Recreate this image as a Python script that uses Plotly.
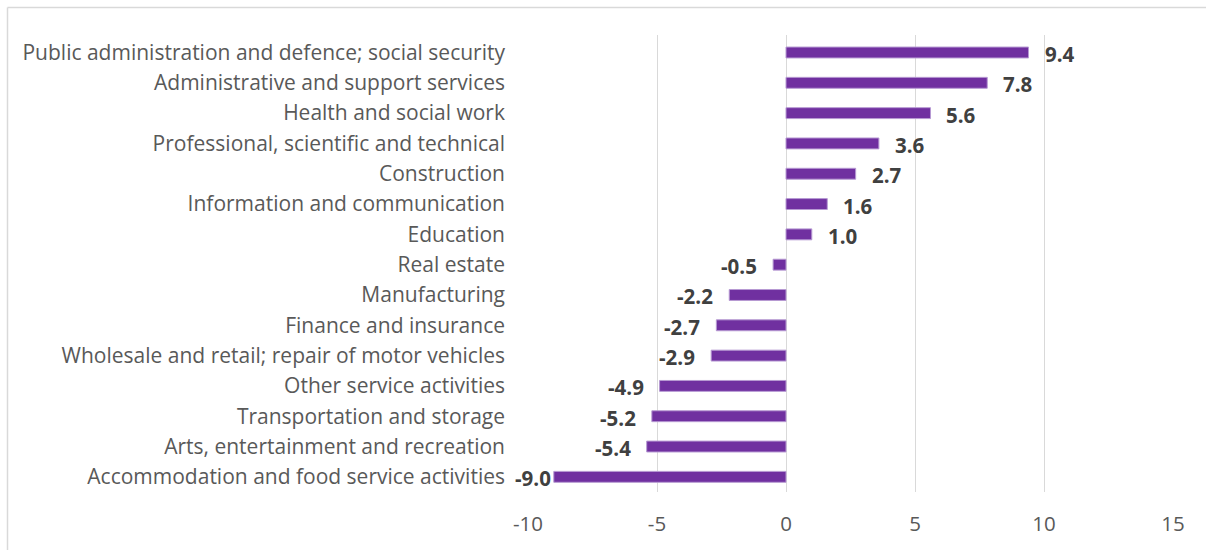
import plotly.graph_objects as go

categories = [
    "Public administration and defence; social security",
    "Administrative and support services",
    "Health and social work",
    "Professional, scientific and technical",
    "Construction",
    "Information and communication",
    "Education",
    "Real estate",
    "Manufacturing",
    "Finance and insurance",
    "Wholesale and retail; repair of motor vehicles",
    "Other service activities",
    "Transportation and storage",
    "Arts, entertainment and recreation",
    "Accommodation and food service activities",
]
values = [9.4, 7.8, 5.6, 3.6, 2.7, 1.6, 1.0, -0.5, -2.2, -2.7, -2.9, -4.9, -5.2, -5.4, -9.0]
x_ticks = [-10, -5, 0, 5, 10, 15]

W, H = 1206, 550
ML, MR, MT, MB = 528, 33, 35, 58
PW, PH = W - ML - MR, H - MT - MB

FONT = "Open Sans"

fig = go.Figure(go.Bar(
    x=values, y=categories, orientation="h",
    marker=dict(color="#7030A0", line=dict(color="#B79AD3", width=1)),
    width=0.36,
))

annotations = []
for c, v in zip(categories, values):
    shift = 14 if v >= 0 else (-14 if v > -8 else -1)
    annotations.append(dict(
        x=v, y=c, xref="x", yref="y", text=f"<b>{v:.1f}</b>", showarrow=False,
        xanchor="left" if v >= 0 else "right", xshift=shift, yshift=-1.5,
        font=dict(family=FONT, size=20.5, color="#404040"),
    ))

def px2paper_x(px):
    return (px - ML) / PW

def px2paper_y(py):
    return 1 - (py - MT) / PH

# outer chart border (top and left edges visible)
border = dict(color="#D9D9D9", width=1.5)
fig.add_shape(type="line", xref="paper", yref="paper",
              x0=px2paper_x(7.5), x1=px2paper_x(1210), y0=px2paper_y(7.5), y1=px2paper_y(7.5),
              line=border, layer="below")
fig.add_shape(type="line", xref="paper", yref="paper",
              x0=px2paper_x(7.5), x1=px2paper_x(7.5), y0=px2paper_y(7.5), y1=px2paper_y(555),
              line=border, layer="below")

fig.update_layout(
    width=W, height=H,
    margin=dict(l=ML, r=MR, t=MT, b=MB),
    paper_bgcolor="white", plot_bgcolor="white",
    showlegend=False,
    annotations=annotations,
    font=dict(family=FONT, color="#595959"),
    xaxis=dict(range=[-10, 15], tickvals=x_ticks, ticktext=[str(t) for t in x_ticks],
               showgrid=True, gridcolor="#D9D9D9", gridwidth=1.3,
               zeroline=True, zerolinecolor="#D9D9D9", zerolinewidth=1.3,
               showline=False, ticks="", tickfont=dict(family=FONT, size=20.5, color="#595959"),
               ticklabelstandoff=17),
    yaxis=dict(autorange="reversed", showgrid=False, zeroline=False, showline=False,
               ticks="", tickfont=dict(family=FONT, size=21, color="#595959"),
               ticklabelstandoff=22),
)

fig.write_html("out.html")
